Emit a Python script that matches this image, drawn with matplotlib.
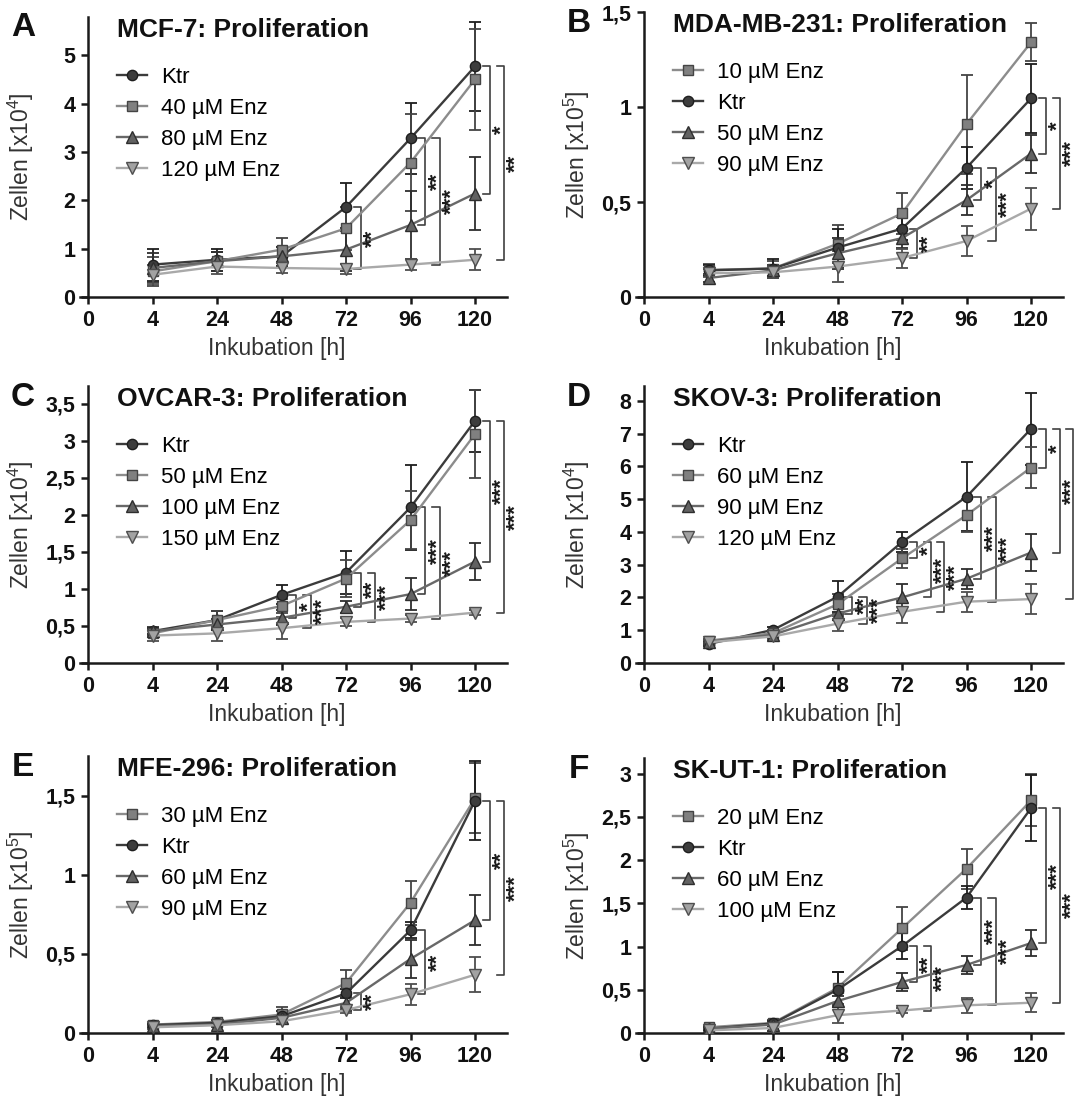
import numpy as np
import matplotlib
matplotlib.use('Agg')
import matplotlib.pyplot as plt
import matplotlib as mpl

mpl.rcParams['font.family'] = ['Liberation Sans', 'DejaVu Sans']
mpl.rcParams['mathtext.fontset'] = 'custom'
mpl.rcParams['mathtext.rm'] = 'Liberation Sans'
mpl.rcParams['mathtext.it'] = 'Liberation Sans:italic'
mpl.rcParams['mathtext.bf'] = 'Liberation Sans:bold'

hours = ['0', '4', '24', '48', '72', '96', '120']

# A: MCF-7 (x10^4)
a_ktr = [0.67, 0.77, 0.84, 1.86, 3.28, 4.77]
a_ktr_sd = [0.33, 0.23, 0.2, 0.5, 0.73, 0.92]
a_40 = [0.53, 0.74, 0.98, 1.42, 2.78, 4.50]
a_40_sd = [0.3, 0.2, 0.25, 0.45, 1.0, 1.05]
a_80 = [0.60, 0.74, 0.84, 0.98, 1.49, 2.14]
a_80_sd = [0.3, 0.2, 0.2, 0.45, 0.7, 0.75]
a_120 = [0.46, 0.63, 0.60, 0.58, 0.67, 0.77]
a_120_sd = [0.2, 0.15, 0.1, 0.1, 0.12, 0.22]

# B: MDA-MB-231 (x10^5)
b_10 = [0.143, 0.15, 0.28, 0.44, 0.91, 1.34]
b_10_sd = [0.03, 0.04, 0.1, 0.11, 0.26, 0.1]
b_ktr = [0.14, 0.15, 0.26, 0.36, 0.68, 1.045]
b_ktr_sd = [0.03, 0.05, 0.1, 0.06, 0.11, 0.18]
b_50 = [0.10, 0.14, 0.23, 0.31, 0.51, 0.755]
b_50_sd = [0.02, 0.03, 0.08, 0.05, 0.08, 0.1]
b_90 = [0.125, 0.13, 0.16, 0.205, 0.295, 0.465]
b_90_sd = [0.02, 0.03, 0.08, 0.05, 0.08, 0.11]

# C: OVCAR-3 (x10^4)
c_ktr = [0.43, 0.58, 0.92, 1.22, 2.10, 3.27]
c_ktr_sd = [0.04, 0.12, 0.13, 0.29, 0.57, 0.42]
c_50 = [0.40, 0.58, 0.77, 1.14, 1.93, 3.09]
c_50_sd = [0.05, 0.12, 0.1, 0.25, 0.39, 0.59]
c_100 = [0.43, 0.52, 0.61, 0.76, 0.93, 1.37]
c_100_sd = [0.05, 0.08, 0.1, 0.08, 0.22, 0.25]
c_150 = [0.37, 0.40, 0.47, 0.555, 0.60, 0.68]
c_150_sd = [0.07, 0.1, 0.15, 0.05, 0.05, 0.03]

# D: SKOV-3 (x10^4)
d_ktr = [0.58, 1.01, 2.02, 3.69, 5.07, 7.14]
d_ktr_sd = [0.06, 0.1, 0.47, 0.3, 1.05, 1.1]
d_60 = [0.68, 0.91, 1.79, 3.19, 4.51, 5.96]
d_60_sd = [0.06, 0.1, 0.3, 0.29, 0.5, 0.62]
d_90 = [0.65, 0.86, 1.51, 2.0, 2.57, 3.37]
d_90_sd = [0.06, 0.1, 0.2, 0.41, 0.31, 0.57]
d_120 = [0.63, 0.81, 1.2, 1.56, 1.87, 1.95]
d_120_sd = [0.06, 0.1, 0.22, 0.33, 0.31, 0.46]

# E: MFE-296 (x10^5)
e_30 = [0.053, 0.07, 0.117, 0.315, 0.823, 1.483]
e_30_sd = [0.01, 0.01, 0.047, 0.08, 0.14, 0.22]
e_ktr = [0.05, 0.064, 0.106, 0.25, 0.649, 1.468]
e_ktr_sd = [0.01, 0.01, 0.03, 0.03, 0.05, 0.25]
e_60 = [0.043, 0.053, 0.096, 0.19, 0.468, 0.713]
e_60_sd = [0.01, 0.01, 0.02, 0.05, 0.12, 0.16]
e_90 = [0.036, 0.049, 0.074, 0.145, 0.245, 0.368]
e_90_sd = [0.01, 0.01, 0.02, 0.02, 0.065, 0.11]

# F: SK-UT-1 (x10^5)
f_20 = [0.066, 0.117, 0.52, 1.21, 1.90, 2.69]
f_20_sd = [0.02, 0.03, 0.19, 0.25, 0.23, 0.3]
f_ktr = [0.05, 0.11, 0.50, 1.005, 1.566, 2.60]
f_ktr_sd = [0.02, 0.03, 0.2, 0.15, 0.13, 0.38]
f_60 = [0.05, 0.097, 0.37, 0.59, 0.787, 1.04]
f_60_sd = [0.02, 0.03, 0.06, 0.1, 0.1, 0.15]
f_100 = [0.03, 0.058, 0.206, 0.26, 0.32, 0.35]
f_100_sd = [0.02, 0.03, 0.09, 0.03, 0.09, 0.11]

# significance brackets: (hour, upper group, lower group, label, slot)
a_sig = [('72', 'Ktr', '120 µM Enz', '**', 0), ('96', 'Ktr', '80 µM Enz', '**', 0),
         ('96', 'Ktr', '120 µM Enz', '***', 1), ('120', 'Ktr', '80 µM Enz', '*', 0),
         ('120', 'Ktr', '120 µM Enz', '**', 1)]
b_sig = [('72', 'Ktr', '90 µM Enz', '**', 0), ('96', 'Ktr', '50 µM Enz', '*', 0),
         ('96', 'Ktr', '90 µM Enz', '***', 1), ('120', 'Ktr', '50 µM Enz', '*', 0),
         ('120', 'Ktr', '90 µM Enz', '***', 1)]
c_sig = [('48', 'Ktr', '100 µM Enz', '*', 0), ('48', 'Ktr', '150 µM Enz', '***', 1),
         ('72', 'Ktr', '100 µM Enz', '**', 0), ('72', 'Ktr', '150 µM Enz', '***', 1),
         ('96', 'Ktr', '100 µM Enz', '***', 0), ('96', 'Ktr', '150 µM Enz', '***', 1),
         ('120', 'Ktr', '100 µM Enz', '***', 0), ('120', 'Ktr', '150 µM Enz', '***', 1)]
d_sig = [('48', 'Ktr', '90 µM Enz', '**', 0), ('48', 'Ktr', '120 µM Enz', '***', 1),
         ('72', 'Ktr', '60 µM Enz', '*', 0), ('72', 'Ktr', '90 µM Enz', '***', 1),
         ('72', 'Ktr', '120 µM Enz', '***', 2), ('96', 'Ktr', '90 µM Enz', '***', 0),
         ('96', 'Ktr', '120 µM Enz', '***', 1), ('120', 'Ktr', '60 µM Enz', '*', 0),
         ('120', 'Ktr', '90 µM Enz', '***', 1), ('120', 'Ktr', '120 µM Enz', '***', 2)]
e_sig = [('72', 'Ktr', '90 µM Enz', '**', 0), ('96', 'Ktr', '90 µM Enz', '**', 0),
         ('120', 'Ktr', '60 µM Enz', '**', 0), ('120', 'Ktr', '90 µM Enz', '***', 1)]
f_sig = [('72', 'Ktr', '60 µM Enz', '**', 0), ('72', 'Ktr', '100 µM Enz', '***', 1),
         ('96', 'Ktr', '60 µM Enz', '***', 0), ('96', 'Ktr', '100 µM Enz', '***', 1),
         ('120', 'Ktr', '60 µM Enz', '***', 0), ('120', 'Ktr', '100 µM Enz', '***', 1)]

ticks_a = [0, 1, 2, 3, 4, 5]
ticks_b = [0, 0.5, 1, 1.5]
ticks_c = [0, 0.5, 1, 1.5, 2, 2.5, 3, 3.5]
ticks_d = [0, 1, 2, 3, 4, 5, 6, 7, 8]
ticks_e = [0, 0.5, 1, 1.5]
ticks_f = [0, 0.5, 1, 1.5, 2, 2.5, 3]

# style per group type
STYLE = {
    'ktr': dict(marker='o', ms=7.4, color='#3b3b3b', mfc='#3d3d3d', mec='#1e1e1e'),
    'low': dict(marker='s', ms=6.8, color='#8c8c8c', mfc='#808080', mec='#444444'),
    'mid': dict(marker='^', ms=8.2, color='#686868', mfc='#626262', mec='#2e2e2e'),
    'high': dict(marker='v', ms=8.2, color='#a9a9a9', mfc='#a2a2a2', mec='#4e4e4e'),
}

panels = [
    dict(letter='A', title='MCF-7: Proliferation', exp=4, ticks=ticks_a, ytop=5.79, box=(88, 297, 17),
         series=[('Ktr', 'ktr', a_ktr, a_ktr_sd), ('40 µM Enz', 'low', a_40, a_40_sd),
                 ('80 µM Enz', 'mid', a_80, a_80_sd), ('120 µM Enz', 'high', a_120, a_120_sd)],
         sig=a_sig),
    dict(letter='B', title='MDA-MB-231: Proliferation', exp=5, ticks=ticks_b, ytop=1.5, box=(644, 297, 12),
         series=[('10 µM Enz', 'low', b_10, b_10_sd), ('Ktr', 'ktr', b_ktr, b_ktr_sd),
                 ('50 µM Enz', 'mid', b_50, b_50_sd), ('90 µM Enz', 'high', b_90, b_90_sd)],
         sig=b_sig),
    dict(letter='C', title='OVCAR-3: Proliferation', exp=4, ticks=ticks_c, ytop=3.74, box=(88, 663, 386),
         series=[('Ktr', 'ktr', c_ktr, c_ktr_sd), ('50 µM Enz', 'low', c_50, c_50_sd),
                 ('100 µM Enz', 'mid', c_100, c_100_sd), ('150 µM Enz', 'high', c_150, c_150_sd)],
         sig=c_sig),
    dict(letter='D', title='SKOV-3: Proliferation', exp=4, ticks=ticks_d, ytop=8.45, box=(644, 663, 386),
         series=[('Ktr', 'ktr', d_ktr, d_ktr_sd), ('60 µM Enz', 'low', d_60, d_60_sd),
                 ('90 µM Enz', 'mid', d_90, d_90_sd), ('120 µM Enz', 'high', d_120, d_120_sd)],
         sig=d_sig),
    dict(letter='E', title='MFE-296: Proliferation', exp=5, ticks=ticks_e, ytop=1.75, box=(88, 1033, 756),
         series=[('30 µM Enz', 'low', e_30, e_30_sd), ('Ktr', 'ktr', e_ktr, e_ktr_sd),
                 ('60 µM Enz', 'mid', e_60, e_60_sd), ('90 µM Enz', 'high', e_90, e_90_sd)],
         sig=e_sig),
    dict(letter='F', title='SK-UT-1: Proliferation', exp=5, ticks=ticks_f, ytop=3.18, box=(644, 1033, 758),
         series=[('20 µM Enz', 'low', f_20, f_20_sd), ('Ktr', 'ktr', f_ktr, f_ktr_sd),
                 ('60 µM Enz', 'mid', f_60, f_60_sd), ('100 µM Enz', 'high', f_100, f_100_sd)],
         sig=f_sig),
]

W, H = 1074, 1101
UNIT = 64.5          # px per x category
XMIN, XMAX = -0.12, 6.5
SLOT_X = [0.23, 0.45, 0.65]
TICK = 0.11


def tick_text(v):
    return ('%g' % v).replace('.', ',')


fig = plt.figure(figsize=(W / 100, H / 100), dpi=100)

for p in panels:
    x_org, y_bot, y_top = p['box']
    left = (x_org + XMIN * UNIT) / W
    width = (XMAX - XMIN) * UNIT / W
    ax = fig.add_axes([left, (H - y_bot) / H, width, (y_bot - y_top) / H])
    hpx = y_bot - y_top

    x = np.arange(1, 7)
    means = {}
    for label, kind, m, sd in p['series']:
        st = STYLE[kind]
        means[label] = m
        ax.errorbar(x, m, yerr=sd, fmt='none', ecolor=st['mec'], elinewidth=1.3,
                    capsize=4.5, capthick=1.3, zorder=2)
        ax.plot(x, m, marker=st['marker'], ms=st['ms'], color=st['color'], lw=1.7,
                mfc=st['mfc'], mec=st['mec'], mew=1.0, label=label, zorder=3)

    for hour, top, bot, stars, slot in p['sig']:
        xi = hours.index(hour)
        xb = xi + SLOT_X[slot]
        yh = means[top][xi - 1]
        yl = means[bot][xi - 1]
        ax.plot([xb - TICK, xb, xb, xb - TICK], [yh, yh, yl, yl], color='#404040', lw=1.2,
                clip_on=False, zorder=1)
        ax.text(xb + 0.03, (yh + yl) / 2, stars, rotation=90, ha='left', va='center',
                fontsize=16, fontweight='bold', color='#1a1a1a', clip_on=False)

    ax.set_xlim(XMIN, XMAX)
    ax.set_ylim(0, p['ytop'])
    ax.spines['top'].set_visible(False)
    ax.spines['right'].set_visible(False)
    ax.spines['left'].set_position(('data', 0))
    for s in ('left', 'bottom'):
        ax.spines[s].set_linewidth(1.8)
        ax.spines[s].set_color('#1a1a1a')
    ax.set_xticks(range(7))
    ax.set_xticklabels(hours)
    ax.set_yticks(p['ticks'])
    ax.set_yticklabels([tick_text(v) for v in p['ticks']])
    ax.tick_params(direction='out', length=5, width=1.8, color='#1a1a1a', pad=4)
    for lab in ax.get_xticklabels() + ax.get_yticklabels():
        lab.set_fontsize(15.5)
        lab.set_fontweight('bold')
        lab.set_color('#111111')

    ax.set_xlabel('Inkubation [h]', fontsize=16.5, color='#333333')
    ax.xaxis.set_label_coords(0.46, -40 / hpx)
    ax.set_ylabel('Zellen [x10$^{%d}$]' % p['exp'], fontsize=16.5, color='#333333')
    ax.yaxis.set_label_coords(-0.103, 0.5)

    ax.legend(loc='upper left', bbox_to_anchor=(0.087, (hpx - 50) / hpx),
              frameon=False, borderpad=0, borderaxespad=0, fontsize=16,
              handlelength=1.35, handletextpad=0.6, labelspacing=0.45)

    fig.text((x_org + 29) / W, (H - (y_top + 13)) / H, p['title'], fontsize=19,
             fontweight='bold', ha='left', va='center', color='#111111')
    fig.text((x_org - 65) / W, (H - (y_top + 11)) / H, p['letter'], fontsize=24,
             fontweight='bold', ha='center', va='center', color='#111111')

fig.savefig('out.png', dpi=100)
